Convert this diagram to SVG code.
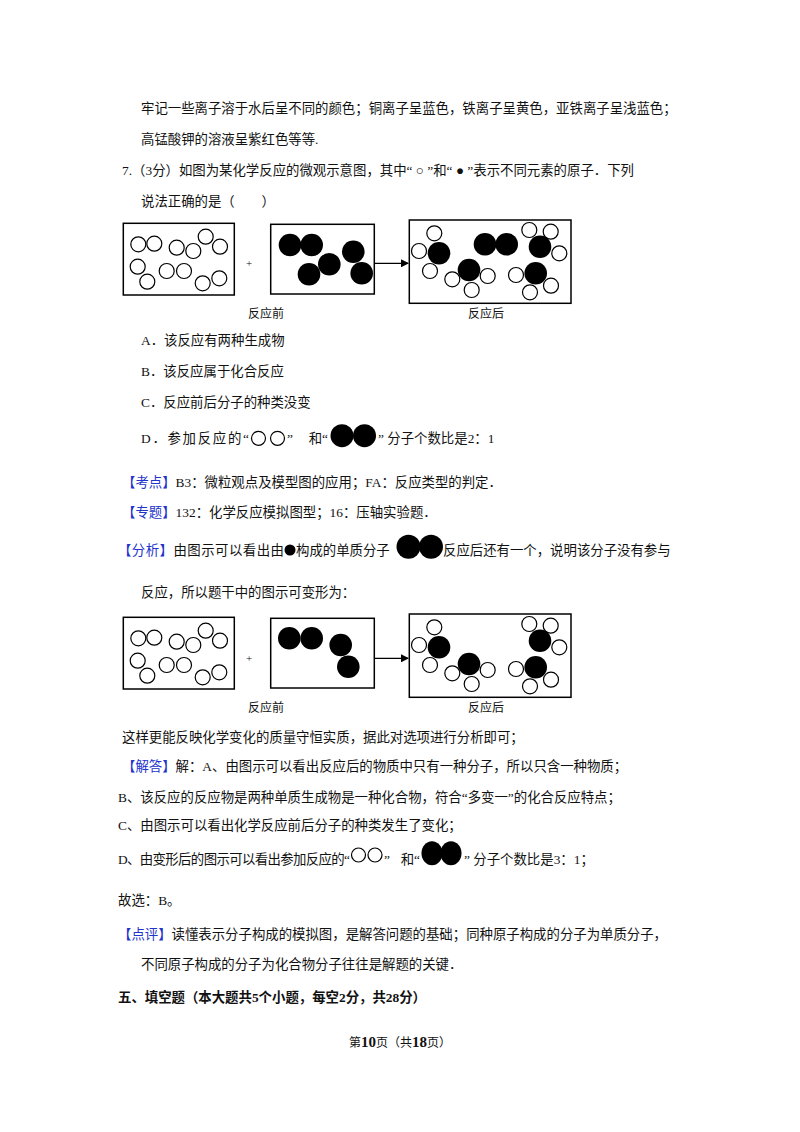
<svg xmlns="http://www.w3.org/2000/svg" width="800" height="1132" viewBox="0 0 800 1132">
<style>
text{font-family:"Liberation Serif","Noto Sans CJK SC",serif;font-size:13.4px;fill:#111}
.b{fill:#2233cc}
.lab{font-family:"Noto Sans CJK SC",sans-serif;font-size:12px}
.box{fill:#fff;stroke:#000;stroke-width:1.5}
.h{fill:#fff;stroke:#000;stroke-width:1.2}
.k{fill:#000}
.ln{stroke:#000;stroke-width:1.3}
</style>
<defs>
<marker id="ar" markerWidth="8" markerHeight="8" refX="7" refY="4" orient="auto" markerUnits="userSpaceOnUse"><path d="M0,0 L8,4 L0,8 z" fill="#000"/></marker>
<g id="h1">
<circle class="h" cx="138.3" cy="244.3" r="7.5"/><circle class="h" cx="154.3" cy="243.7" r="7.5"/><circle class="h" cx="176.7" cy="247.7" r="7.5"/><circle class="h" cx="193.3" cy="251" r="7.5"/><circle class="h" cx="205.7" cy="236.7" r="7.5"/><circle class="h" cx="220" cy="246.7" r="7.5"/><circle class="h" cx="137.7" cy="266.7" r="7.5"/><circle class="h" cx="147.3" cy="281.7" r="7.5"/><circle class="h" cx="166.7" cy="271" r="7.5"/><circle class="h" cx="184" cy="271" r="7.5"/><circle class="h" cx="202.7" cy="283.3" r="7.5"/><circle class="h" cx="219.3" cy="278.3" r="7.5"/>
</g>
<g id="after">
<circle class="h" cx="434.3" cy="233.3" r="7.5"/><circle class="h" cx="419" cy="251" r="7.5"/><circle class="h" cx="430" cy="271" r="7.5"/><circle class="h" cx="452.3" cy="279.3" r="7.5"/><circle class="h" cx="487.7" cy="276" r="7.5"/><circle class="h" cx="471.7" cy="290" r="7.5"/><circle class="h" cx="529.3" cy="230" r="7.5"/><circle class="h" cx="550.7" cy="231.7" r="7.5"/><circle class="h" cx="559.3" cy="253.3" r="7.5"/><circle class="h" cx="516" cy="275" r="7.5"/><circle class="h" cx="551" cy="285.7" r="7.5"/><circle class="h" cx="530" cy="292.3" r="7.5"/>
<circle class="k" cx="439" cy="253.3" r="11.3"/><circle class="k" cx="469" cy="270" r="11.3"/><circle class="k" cx="540" cy="246.7" r="11.3"/><circle class="k" cx="535.7" cy="273.3" r="11.3"/>
</g>
</defs>
<rect width="800" height="1132" fill="#fff"/>

<text x="141" y="113">牢记一些离子溶于水后呈不同的颜色；铜离子呈蓝色，铁离子呈黄色，亚铁离子呈浅蓝色；</text>
<text x="141" y="144">高锰酸钾的溶液呈紫红色等等.</text>
<text x="122" y="175">7.（3分）如图为某化学反应的微观示意图，其中“ ○ ”和“ ● ”表示不同元素的原子．下列</text>
<text x="141" y="206">说法正确的是（　　）</text>

<g id="diagram1">
<g id="d1-before1"><rect class="box" x="123.3" y="223.3" width="111" height="71.7"/><use href="#h1"/></g>
<text x="246" y="267" style="font-size:11px">+</text>
<g id="d1-before2"><rect class="box" x="270.7" y="224.3" width="103.6" height="69.7"/>
<circle class="k" cx="290" cy="245" r="11.3"/><circle class="k" cx="311.7" cy="245" r="11.3"/><circle class="k" cx="353.3" cy="251.7" r="11.3"/><circle class="k" cx="329.3" cy="264.3" r="11.3"/><circle class="k" cx="309" cy="274.3" r="11.3"/><circle class="k" cx="361.7" cy="273.3" r="11.3"/></g>
<g id="d1-after"><rect class="box" x="409.3" y="220" width="161.7" height="83.3"/>
<use href="#after"/>
<circle class="k" cx="485" cy="244.3" r="11.3"/><circle class="k" cx="506.7" cy="244.3" r="11.3"/></g>
<g id="d1-conn"><line class="ln" x1="374.3" y1="263.3" x2="408" y2="263.3" marker-end="url(#ar)"/></g>
<text class="lab" x="248" y="318">反应前</text>
<text class="lab" x="468" y="318">反应后</text>
</g>

<text x="141" y="345">A．该反应有两种生成物</text>
<text x="141" y="376">B．该反应属于化合反应</text>
<text x="141" y="407">C．反应前后分子的种类没变</text>
<text x="141" y="443" textLength="108" lengthAdjust="spacing">D．参加反应的“</text>
<circle class="h" cx="258.5" cy="438.3" r="7"/><circle class="h" cx="277.5" cy="438.3" r="7"/>
<text x="287" y="443">”</text>
<text x="328" y="443" text-anchor="end">和“</text>
<circle class="k" cx="342" cy="435.7" r="11.5"/><circle class="k" cx="364.5" cy="435.7" r="11.5"/>
<text x="378" y="443">”  分子个数比是2：1</text>

<text x="122" y="487"><tspan class="b">【考点】</tspan>B3：微粒观点及模型图的应用；FA：反应类型的判定．</text>
<text x="122" y="517"><tspan class="b">【专题】</tspan>132：化学反应模拟图型；16：压轴实验题．</text>
<text x="118" y="555" textLength="166" lengthAdjust="spacing"><tspan class="b">【分析】</tspan>由图示可以看出由</text>
<circle class="k" cx="290" cy="550" r="5.5"/>
<text x="296" y="555">构成的单质分子</text>
<circle class="k" cx="408.5" cy="546.7" r="12"/><circle class="k" cx="431" cy="546.7" r="12"/>
<text x="443" y="555">反应后还有一个，说明该分子没有参与</text>
<text x="141" y="597">反应，所以题干中的图示可变形为：</text>

<g id="diagram2" transform="translate(0,394)">
<g id="d2-before1"><rect class="box" x="123.3" y="223.3" width="111" height="71.7"/><use href="#h1"/></g>
<text x="246" y="268" style="font-size:11px">+</text>
<g id="d2-before2"><rect class="box" x="270.7" y="224.3" width="103.6" height="69.7"/>
<circle class="k" cx="289.3" cy="244.3" r="11.3"/><circle class="k" cx="311.7" cy="244.3" r="11.3"/><circle class="k" cx="340.7" cy="251" r="11.3"/><circle class="k" cx="348.3" cy="272.7" r="11.3"/></g>
<g id="d2-after"><rect class="box" x="409.3" y="220" width="161.7" height="83.3"/><use href="#after"/></g>
<g id="d2-conn"><line class="ln" x1="374.3" y1="264.3" x2="408" y2="264.3" marker-end="url(#ar)"/></g>
<text class="lab" x="248" y="318">反应前</text>
<text class="lab" x="468" y="318">反应后</text>
</g>

<text x="122" y="742">这样更能反映化学变化的质量守恒实质，据此对选项进行分析即可；</text>
<text x="122" y="771"><tspan class="b">【解答】</tspan>解：A、由图示可以看出反应后的物质中只有一种分子，所以只含一种物质；</text>
<text x="118" y="802">B、该反应的反应物是两种单质生成物是一种化合物，符合“多变一”的化合反应特点；</text>
<text x="118" y="830">C、由图示可以看出化学反应前后分子的种类发生了变化；</text>
<text x="118" y="864" textLength="232" lengthAdjust="spacing">D、由变形后的图示可以看出参加反应的“</text>
<circle class="h" cx="358.5" cy="855" r="7"/><circle class="h" cx="375" cy="855" r="7"/>
<text x="384" y="864">”</text>
<text x="420" y="864" text-anchor="end">和“</text>
<ellipse class="k" cx="432" cy="853.3" rx="10.5" ry="12"/><ellipse class="k" cx="451" cy="853.3" rx="10.5" ry="12"/>
<text x="464" y="864">”  分子个数比是3：1；</text>
<text x="118" y="905">故选：B。</text>
<text x="118" y="939"><tspan class="b">【点评】</tspan>读懂表示分子构成的模拟图，是解答问题的基础；同种原子构成的分子为单质分子，</text>
<text x="141" y="969">不同原子构成的分子为化合物分子往往是解题的关键．</text>
<text x="118" y="1002" font-weight="bold">五、填空题（本大题共5个小题，每空2分，共28分）</text>
<text x="400" y="1047" text-anchor="middle" style="font-size:12px">第<tspan font-weight="bold" style="font-size:15px">10</tspan>页（共<tspan font-weight="bold" style="font-size:15px">18</tspan>页）</text>
</svg>
